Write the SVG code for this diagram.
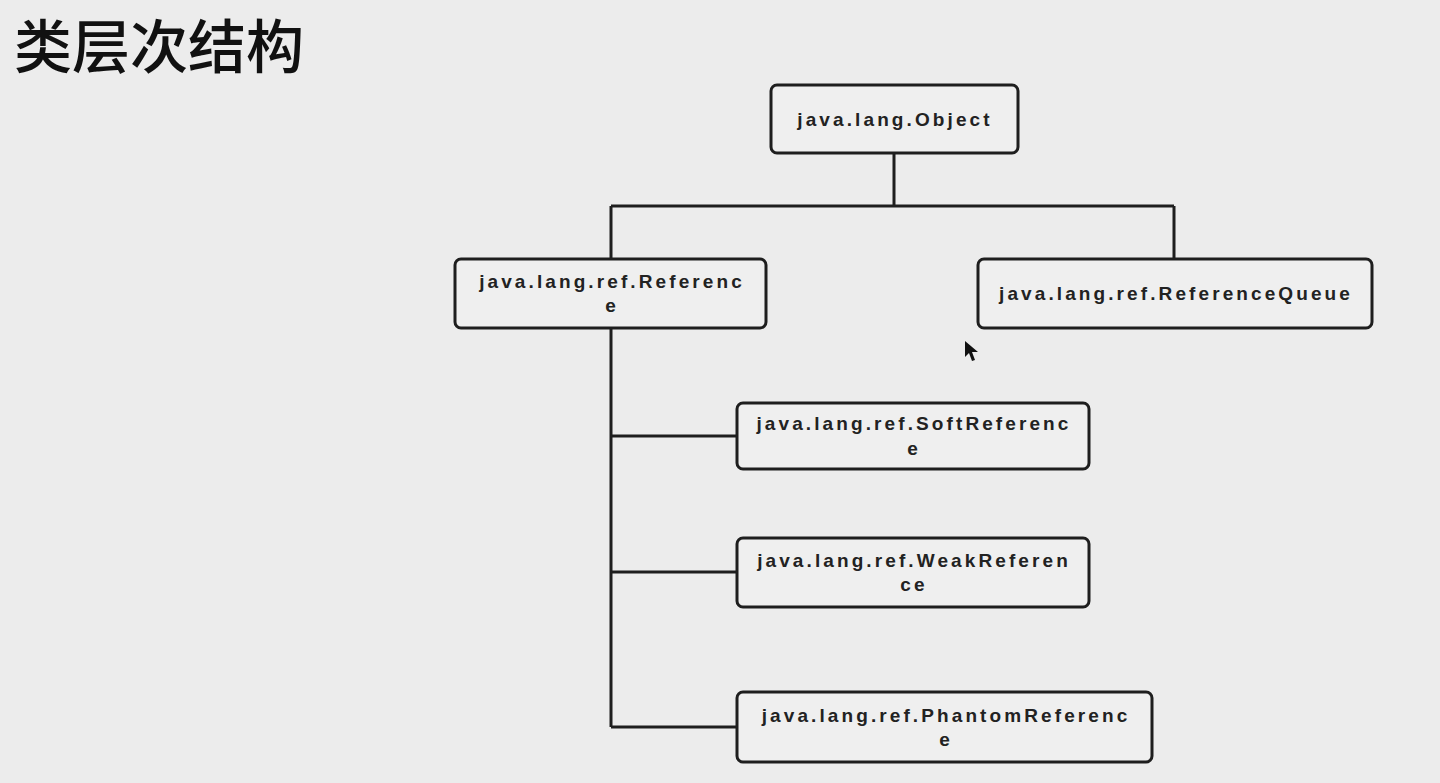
<svg xmlns="http://www.w3.org/2000/svg" width="1440" height="783" viewBox="0 0 1440 783">
<style>
.box{fill:#efefef;stroke:#1e1e1e;stroke-width:3}
.t{font-family:"Liberation Sans",Arial,sans-serif;font-weight:bold;font-size:19px;letter-spacing:3.1px;fill:#222;text-anchor:middle}
.c{fill:none;stroke:#1e1e1e;stroke-width:3}
</style>
<rect width="1440" height="783" fill="#ececec"/>
<text x="14" y="68" font-family="'Noto Sans CJK SC',sans-serif" font-weight="500" font-size="58" fill="#111">类层次结构</text>
<g id="connectors">
<path class="c" d="M894 153V206M611 206H1174M611 206V259M1174 206V259M611 328V727M611 436H737M611 572H737M611 727H737"/>
</g>
<g id="object"><rect class="box" x="771" y="85" width="247" height="68" rx="6"/><text class="t" x="895" y="126">java.lang.Object</text></g>
<g id="reference"><rect class="box" x="455" y="259" width="311" height="69" rx="6"/><text class="t" x="612" y="288">java.lang.ref.Referenc</text><text class="t" x="612" y="312">e</text></g>
<g id="queue"><rect class="box" x="978" y="259" width="394" height="69" rx="6"/><text class="t" x="1176" y="300">java.lang.ref.ReferenceQueue</text></g>
<g id="soft"><rect class="box" x="737" y="403" width="352" height="66" rx="6"/><text class="t" x="914" y="430">java.lang.ref.SoftReferenc</text><text class="t" x="914" y="455">e</text></g>
<g id="weak"><rect class="box" x="737" y="538" width="352" height="69" rx="6"/><text class="t" x="914" y="567">java.lang.ref.WeakReferen</text><text class="t" x="914" y="591">ce</text></g>
<g id="phantom"><rect class="box" x="737" y="692" width="415" height="70" rx="6"/><text class="t" x="946" y="722">java.lang.ref.PhantomReferenc</text><text class="t" x="946" y="746">e</text></g>
<polygon points="965,341 965,357 969,353 972,361 975,360 972,352 978,352" fill="#111"/>
</svg>
